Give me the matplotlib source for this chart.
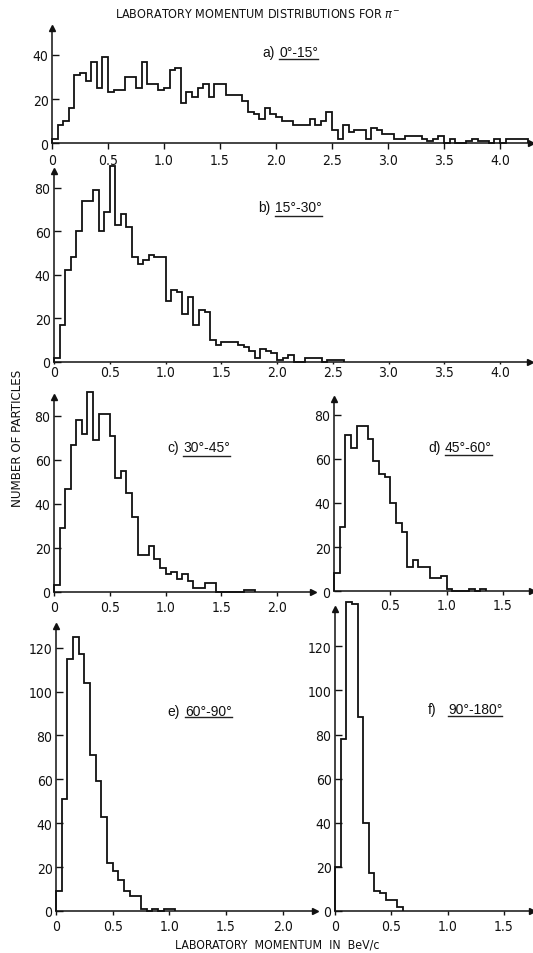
import matplotlib
matplotlib.use("Agg")
import matplotlib.pyplot as plt
import numpy as np
from matplotlib.lines import Line2D

# ---------------- data (counts per 0.05 BeV/c bin, starting at 0) ----------------
BIN = 0.05

counts_a = [2, 8, 10, 16, 31, 32, 28, 37, 25, 39, 23, 24, 24, 30, 30, 25, 37, 27, 27, 24,
            25, 33, 34, 18, 23, 21, 25, 27, 21, 27, 27, 22, 22, 22, 19, 14, 13, 11, 16, 13,
            12, 10, 10, 8, 8, 8, 11, 8, 10, 14, 6, 2, 8, 5, 6, 6, 2, 7, 6, 4,
            4, 2, 2, 3, 3, 3, 2, 1, 2, 3, 0, 2, 0, 0, 1, 2, 1, 1, 0, 2,
            0, 2, 2, 2, 2]
counts_b = [2, 17, 42, 48, 60, 74, 74, 79, 60, 69, 90, 63, 68, 62, 48, 45, 47, 49, 48, 48,
            28, 33, 32, 22, 30, 17, 24, 23, 10, 8, 9, 9, 9, 8, 7, 5, 2, 6, 5, 4,
            1, 2, 3, 0, 0, 2, 2, 2, 0, 1, 1, 1]
counts_c = [3, 29, 47, 67, 78, 72, 91, 69, 81, 81, 71, 52, 55, 45, 34, 17, 17, 21, 15, 11,
            8, 9, 6, 8, 5, 2, 2, 4, 4, 0, 0, 0, 0, 0, 1, 1]
counts_d = [8, 29, 71, 65, 75, 75, 69, 59, 53, 52, 40, 31, 27, 11, 14, 11, 11, 6, 6, 7,
            1, 0, 0, 0, 1, 0, 1]
counts_e = [9, 51, 115, 125, 117, 104, 71, 59, 43, 22, 18, 14, 9, 7, 7, 1, 0, 1, 0, 1, 1]
counts_f = [20, 78, 140, 139, 88, 40, 17, 9, 8, 5, 5, 2]

labels_prefix = ["a)", "b)", "c)", "d)", "e)", "f)"]
labels_angle = ["0°-15°", "15°-30°", "30°-45°", "45°-60°", "60°-90°", "90°-180°"]

xticks_a = [0, 0.5, 1.0, 1.5, 2.0, 2.5, 3.0, 3.5, 4.0]
xticks_b = [0, 0.5, 1.0, 1.5, 2.0, 2.5, 3.0, 3.5, 4.0]
xticks_c = [0, 0.5, 1.0, 1.5, 2.0]
xticks_d = [0.5, 1.0, 1.5]
xticks_e = [0, 0.5, 1.0, 1.5, 2.0]
xticks_f = [0, 0.5, 1.0, 1.5]
yticks_a = [0, 20, 40]
yticks_b = [0, 20, 40, 60, 80]
yticks_c = [0, 20, 40, 60, 80]
yticks_d = [0, 20, 40, 60, 80]
yticks_e = [0, 20, 40, 60, 80, 100, 120]
yticks_f = [0, 20, 40, 60, 80, 100, 120]

title = "LABORATORY MOMENTUM DISTRIBUTIONS FOR $\\pi^{-}$"
ylabel = "NUMBER OF PARTICLES"
xlabel = "LABORATORY  MOMENTUM  IN  BeV/c"

# ---------------- layout (pixels in a 533 x 954 canvas) ----------------
W, H = 533, 954
plt.rcParams["font.family"] = ["DejaVu Sans"]
plt.rcParams["font.stretch"] = "condensed"
plt.rcParams["mathtext.fontset"] = "dejavusans"

fig = plt.figure(figsize=(W / 100, H / 100), dpi=100)
fig.patch.set_facecolor("white")

panels = [
    dict(c=counts_a, xt=xticks_a, yt=yticks_a, x0=52, x1=531, yt0=29, yb=144, gx=112.0, gy=2.2, pad=3.5, tl=4,
         lab=(262, 279, 53, 60)),
    dict(c=counts_b, xt=xticks_b, yt=yticks_b, x0=54, x1=530, yt0=172, yb=363, gx=111.5, gy=2.18, pad=0.5, tl=1.5,
         lab=(258, 275, 208, 217)),
    dict(c=counts_c, xt=xticks_c, yt=yticks_c, x0=54, x1=313, yt0=398, yb=593, gx=111.5, gy=2.2, pad=2.5, tl=3,
         lab=(167, 183, 448, 457)),
    dict(c=counts_d, xt=xticks_d, yt=yticks_d, x0=334, x1=532, yt0=400, yb=592, gx=112.5, gy=2.2, pad=2.0, tl=3,
         lab=(428, 445, 448, 456)),
    dict(c=counts_e, xt=xticks_e, yt=yticks_e, x0=56, x1=315, yt0=627, yb=912, gx=113.3, gy=2.195, pad=3.0, tl=3,
         lab=(167, 185, 712, 718)),
    dict(c=counts_f, xt=xticks_f, yt=yticks_f, x0=335, x1=532, yt0=610, yb=912, gx=112.5, gy=2.206, pad=3.0, tl=3,
         lab=(428, 448, 710, 717)),
]

def fx(x):
    return x / W

def fy(y):
    return 1 - y / H

angle_texts = []
for i, p in enumerate(panels):
    ax = fig.add_axes([fx(p["x0"]), fy(p["yb"]), (p["x1"] - p["x0"]) / W, (p["yb"] - p["yt0"]) / H])
    ax.set_facecolor("none")
    ax.set_xlim(0, (p["x1"] - p["x0"]) / p["gx"])
    ax.set_ylim(0, (p["yb"] - p["yt0"]) / p["gy"])
    vals = np.array(p["c"], dtype=float)
    edges = np.arange(len(vals) + 1) * BIN
    ax.stairs(vals, edges, baseline=0, fill=False, color="#111111", lw=1.3, clip_on=False)
    for s in ["top", "right"]:
        ax.spines[s].set_visible(False)
    for s in ["left", "bottom"]:
        ax.spines[s].set_linewidth(1.1)
        ax.spines[s].set_color("#111111")
    ax.plot(1, 0, marker=">", color="#111111", ms=4.5, transform=ax.transAxes, clip_on=False)
    ax.plot(0, 1, marker="^", color="#111111", ms=4.5, transform=ax.transAxes, clip_on=False)
    ax.set_xticks(p["xt"])
    ax.set_xticklabels(["0" if v == 0 else f"{v:.1f}" for v in p["xt"]])
    ax.set_yticks(p["yt"])
    ax.set_yticklabels([str(v) for v in p["yt"]])
    ax.tick_params(axis="x", direction="out", length=p["tl"], width=1, pad=p["pad"], labelsize=10,
                   colors="#111111")
    ax.tick_params(axis="y", direction="in", length=5, width=1, pad=2.5, labelsize=10, colors="#111111")

    xp, xa, yc, yu = p["lab"]
    fig.text(fx(xp), fy(yc), labels_prefix[i], fontsize=10, family=["Liberation Sans", "DejaVu Sans"],
             stretch="normal", ha="left", va="center", color="#111111")
    t = fig.text(fx(xa), fy(yc), labels_angle[i], fontsize=10, family=["Liberation Sans", "DejaVu Sans"],
                 stretch="normal", ha="left", va="center", color="#111111")
    angle_texts.append((t, yu))

fig.text(fx(257), fy(15), title, fontsize=9, ha="center", va="center", color="#111111")
fig.text(fx(18), fy(438), ylabel, fontsize=9.5, ha="center", va="center", rotation=90, color="#111111")
fig.text(fx(277), fy(945), xlabel, fontsize=8.8, ha="center", va="center", color="#111111")

fig.canvas.draw()
r = fig.canvas.get_renderer()
for t, yu in angle_texts:
    bb = t.get_window_extent(renderer=r)
    x0 = bb.x0 / fig.bbox.width
    x1 = bb.x1 / fig.bbox.width
    fig.add_artist(Line2D([x0, x1], [fy(yu), fy(yu)], transform=fig.transFigure, color="#222222", lw=1.0))

fig.savefig("out.png", dpi=100, facecolor="white")
